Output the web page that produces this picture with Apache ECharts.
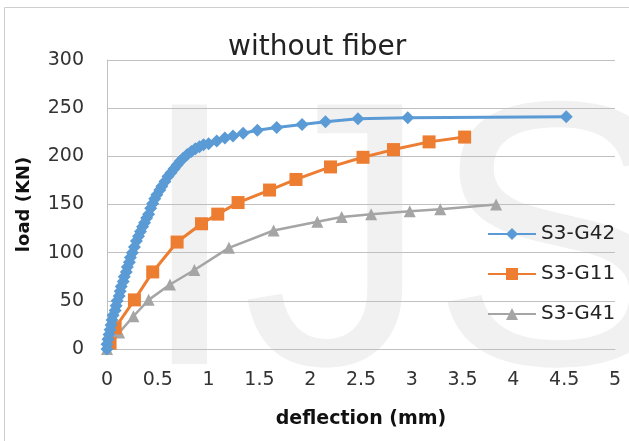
<!DOCTYPE html>
<html>
<head>
<meta charset="utf-8">
<script src="https://cdn.jsdelivr.net/npm/echarts@6/dist/echarts.min.js"></script>
<style>
  html, body { margin: 0; padding: 0; background: #fff; }
  #container { width: 629px; height: 441px; }
</style>
</head>
<body>
<div id="container"></div>
<script>
/* Data: deflection (mm) and load (KN) */
var seriesNames = ['S3-G42', 'S3-G11', 'S3-G41'];

var g42Deflection = [0.00, 0.00, 0.01, 0.02, 0.03, 0.04, 0.05, 0.06, 0.08, 0.09, 0.10, 0.12, 0.13, 0.14,
  0.16, 0.17, 0.19, 0.20, 0.22, 0.23, 0.25, 0.27, 0.29, 0.31, 0.33, 0.35, 0.37, 0.39, 0.41, 0.43,
  0.45, 0.47, 0.49, 0.52, 0.54, 0.57, 0.60, 0.63, 0.66, 0.69, 0.72, 0.75, 0.79, 0.83, 0.87, 0.91,
  0.95, 1.00, 1.08, 1.16, 1.24, 1.34, 1.48, 1.67, 1.92, 2.15, 2.47, 2.96, 4.52];
var g42Load = [0, 5, 10, 15, 20, 25, 30, 35, 40, 45, 50, 55, 60, 65,
  70, 75, 80, 85, 90, 95, 100, 106, 112, 117, 122, 127, 131, 136, 140, 146,
  151, 156, 160, 165, 169, 174, 179, 183, 187, 191, 195, 198, 202, 205, 208, 210,
  212, 213, 216, 219, 221, 224, 227, 230, 233, 236, 239, 240, 241];

var g11Deflection = [0.03, 0.08, 0.27, 0.45, 0.69, 0.93, 1.09, 1.29, 1.60, 1.86, 2.20, 2.52, 2.82, 3.17, 3.52];
var g11Load = [6, 22, 51, 80, 111, 130, 140, 152, 165, 176, 189, 199, 207, 215, 220];

var g41Deflection = [0.00, 0.12, 0.26, 0.41, 0.62, 0.86, 1.20, 1.64, 2.07, 2.31, 2.60, 2.98, 3.28, 3.83];
var g41Load = [0, 17, 34, 51, 67, 82, 105, 123, 132, 137, 140, 143, 145, 150];

var xTicks = { min: 0, max: 5, interval: 0.5 };
var yTicks = { min: 0, max: 300, interval: 50 };

function pairs(xs, ys) {
  return xs.map(function (x, i) { return [x, ys[i]]; });
}

var dom = document.getElementById('container');
var myChart = echarts.init(dom, null, { renderer: 'canvas' });

var tickFont = { fontFamily: 'DejaVu Sans', fontSize: 19, color: '#333' };
var gridColor = '#c0c0c0';

var option = {
  animation: false,
  backgroundColor: '#fff',
  title: {
    text: 'without fiber',
    left: 228,
    top: 34,
    padding: 0,
    textStyle: { fontFamily: 'DejaVu Sans', fontSize: 28, fontWeight: 'normal', color: '#222' }
  },
  graphic: {
    elements: [
      {
        // IJS watermark behind the plot
        type: 'text',
        z: -10,
        silent: true,
        style: {
          text: 'IJS',
          x: 137,
          y: 260,
          font: '377px "Liberation Sans"',
          fill: '#f1f1f1',
          textAlign: 'left',
          textVerticalAlign: 'middle'
        }
      },
      {
        // picture frame
        type: 'rect',
        z: -10,
        silent: true,
        shape: { x: 4.5, y: 7.5, width: 640, height: 440 },
        style: { fill: null, stroke: '#cfcfcf', lineWidth: 1 }
      }
    ]
  },
  legend: {
    orient: 'vertical',
    left: 487,
    top: 224,
    padding: 0,
    itemWidth: 48,
    itemHeight: 15,
    itemGap: 20,
    data: seriesNames,
    textStyle: { fontFamily: 'DejaVu Sans', fontSize: 20, color: '#222', lineHeight: 20 }
  },
  grid: { left: 107, right: 14, top: 60, bottom: 92 },
  xAxis: {
    type: 'value',
    min: xTicks.min,
    max: xTicks.max,
    interval: xTicks.interval,
    name: 'deflection (mm)',
    nameLocation: 'middle',
    nameGap: 61,
    nameTextStyle: { fontFamily: 'DejaVu Sans', fontSize: 19, fontWeight: 'bold', color: '#111' },
    axisLine: { show: true, lineStyle: { color: gridColor, width: 1 } },
    axisTick: { show: false },
    splitLine: { show: false },
    axisLabel: Object.assign({ margin: 22 }, tickFont)
  },
  yAxis: {
    type: 'value',
    min: yTicks.min,
    max: yTicks.max,
    interval: yTicks.interval,
    name: 'load (KN)',
    nameLocation: 'middle',
    nameGap: 74,
    nameTextStyle: { fontFamily: 'DejaVu Sans', fontSize: 18, fontWeight: 'bold', color: '#111' },
    axisLine: { show: true, lineStyle: { color: gridColor, width: 1 } },
    axisTick: { show: false },
    splitLine: { show: true, lineStyle: { color: gridColor, width: 1 } },
    axisLabel: Object.assign({ margin: 23 }, tickFont)
  },
  series: [
    {
      name: seriesNames[0],
      type: 'line',
      data: pairs(g42Deflection, g42Load),
      symbol: 'diamond',
      symbolSize: 13,
      lineStyle: { color: '#5b9bd5', width: 3 },
      itemStyle: { color: '#5b9bd5' },
      z: 4
    },
    {
      name: seriesNames[1],
      type: 'line',
      data: pairs(g11Deflection, g11Load),
      symbol: 'rect',
      symbolSize: 13,
      lineStyle: { color: '#ed7d31', width: 3 },
      itemStyle: { color: '#ed7d31' },
      z: 3
    },
    {
      name: seriesNames[2],
      type: 'line',
      data: pairs(g41Deflection, g41Load),
      symbol: 'triangle',
      symbolSize: 12,
      lineStyle: { color: '#a5a5a5', width: 2.5 },
      itemStyle: { color: '#a5a5a5' },
      z: 2
    }
  ]
};

myChart.setOption(option);
</script>
</body>
</html>
